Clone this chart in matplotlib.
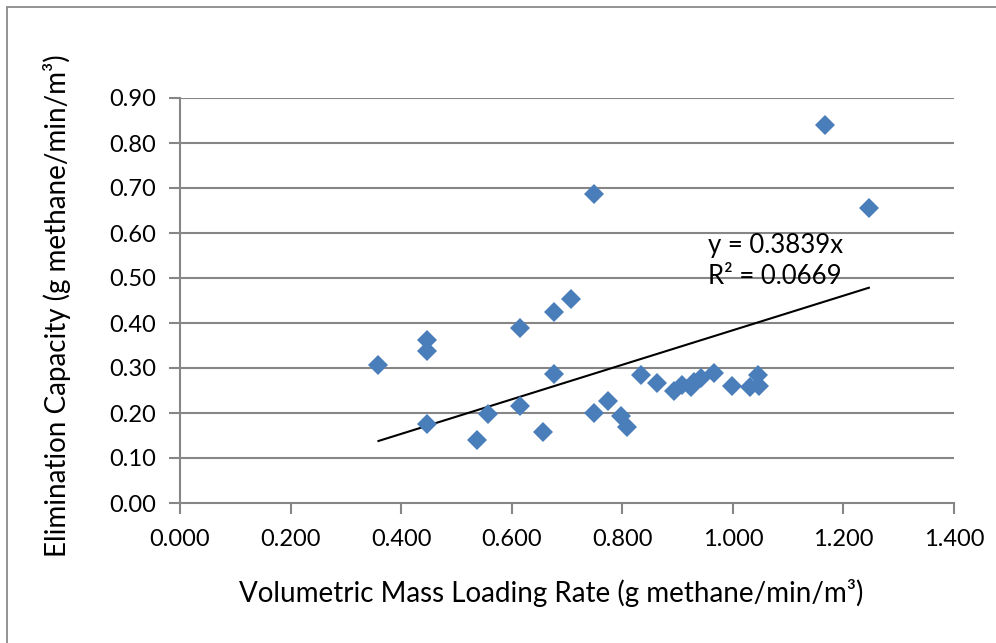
import matplotlib
matplotlib.use('Agg')
import matplotlib.pyplot as plt
from matplotlib.patches import Rectangle
from matplotlib.ticker import FormatStrFormatter
import numpy as np

# loading rate vs elimination capacity
loading = [0.359, 0.447, 0.447, 0.447, 0.538, 0.558, 0.615, 0.615, 0.656, 0.676,
           0.676, 0.708, 0.748, 0.748, 0.775, 0.798, 0.808, 0.833, 0.863, 0.893,
           0.908, 0.924, 0.930, 0.942, 0.966, 0.998, 1.031, 1.045, 1.048, 1.167, 1.246]
capacity = [0.307, 0.362, 0.338, 0.175, 0.141, 0.198, 0.388, 0.216, 0.158, 0.424,
            0.287, 0.453, 0.687, 0.199, 0.226, 0.194, 0.170, 0.284, 0.267, 0.249,
            0.262, 0.258, 0.268, 0.277, 0.290, 0.259, 0.258, 0.284, 0.259, 0.840, 0.656]
slope = 0.3839
r2 = 0.0669

xticks = [0.0, 0.2, 0.4, 0.6, 0.8, 1.0, 1.2, 1.4]
yticks = [0.0, 0.1, 0.2, 0.3, 0.4, 0.5, 0.6, 0.7, 0.8, 0.9]

plt.rcParams['font.family'] = ['Lato', 'DejaVu Sans']
W, H = 996, 643
fig = plt.figure(figsize=(W/100., H/100.), dpi=100)
ax = fig.add_axes([180./W, 1-503./H, (954-180.)/W, (503-98.)/H])

grey = '#868686'
for y in yticks[1:]:
    ax.axhline(y, color=grey, lw=1.5, zorder=0)

ax.plot(loading, capacity, 'D', color='#4a7ebb', markersize=10.2, markeredgewidth=0, zorder=3)

xl = np.array([min(loading), max(loading)])
ax.plot(xl, slope*xl, '-', color='black', lw=1.5, zorder=2)

ax.set_xlim(0, 1.4)
ax.set_ylim(0, 0.9)
ax.set_xticks(xticks)
ax.set_yticks(yticks)
ax.xaxis.set_major_formatter(FormatStrFormatter('%.3f'))
ax.yaxis.set_major_formatter(FormatStrFormatter('%.2f'))
for s in ['top', 'right']:
    ax.spines[s].set_visible(False)
for s in ['left', 'bottom']:
    ax.spines[s].set_color(grey)
    ax.spines[s].set_linewidth(1.5)
ax.tick_params(axis='both', colors=grey, labelcolor='black', labelsize=17,
               length=8, width=1.5, direction='out')
ax.tick_params(axis='x', pad=11)
ax.tick_params(axis='y', pad=9)

ax.text(708./W, 1-245./H, 'y = %.4fx' % slope, transform=fig.transFigure,
        fontsize=18.5, va='center', ha='left')
ax.text(708./W, 1-276./H, 'R² = %.4f' % r2, transform=fig.transFigure,
        fontsize=18.5, va='center', ha='left')

fig.text(551./W, 1-593./H, 'Volumetric Mass Loading Rate (g methane/min/m³)',
         fontsize=20, ha='center', va='center')
fig.text(57./W, 1-306./H, 'Elimination Capacity (g methane/min/m³)',
         fontsize=20, ha='center', va='center', rotation=90)

# chart border (cut off at right and bottom)
fig.patches.append(Rectangle((7./W, -0.1), 1.2, 1-7./H+0.1, transform=fig.transFigure,
                             fill=False, edgecolor='#8a8a8a', lw=1.3))

fig.savefig('out.png', dpi=100)
